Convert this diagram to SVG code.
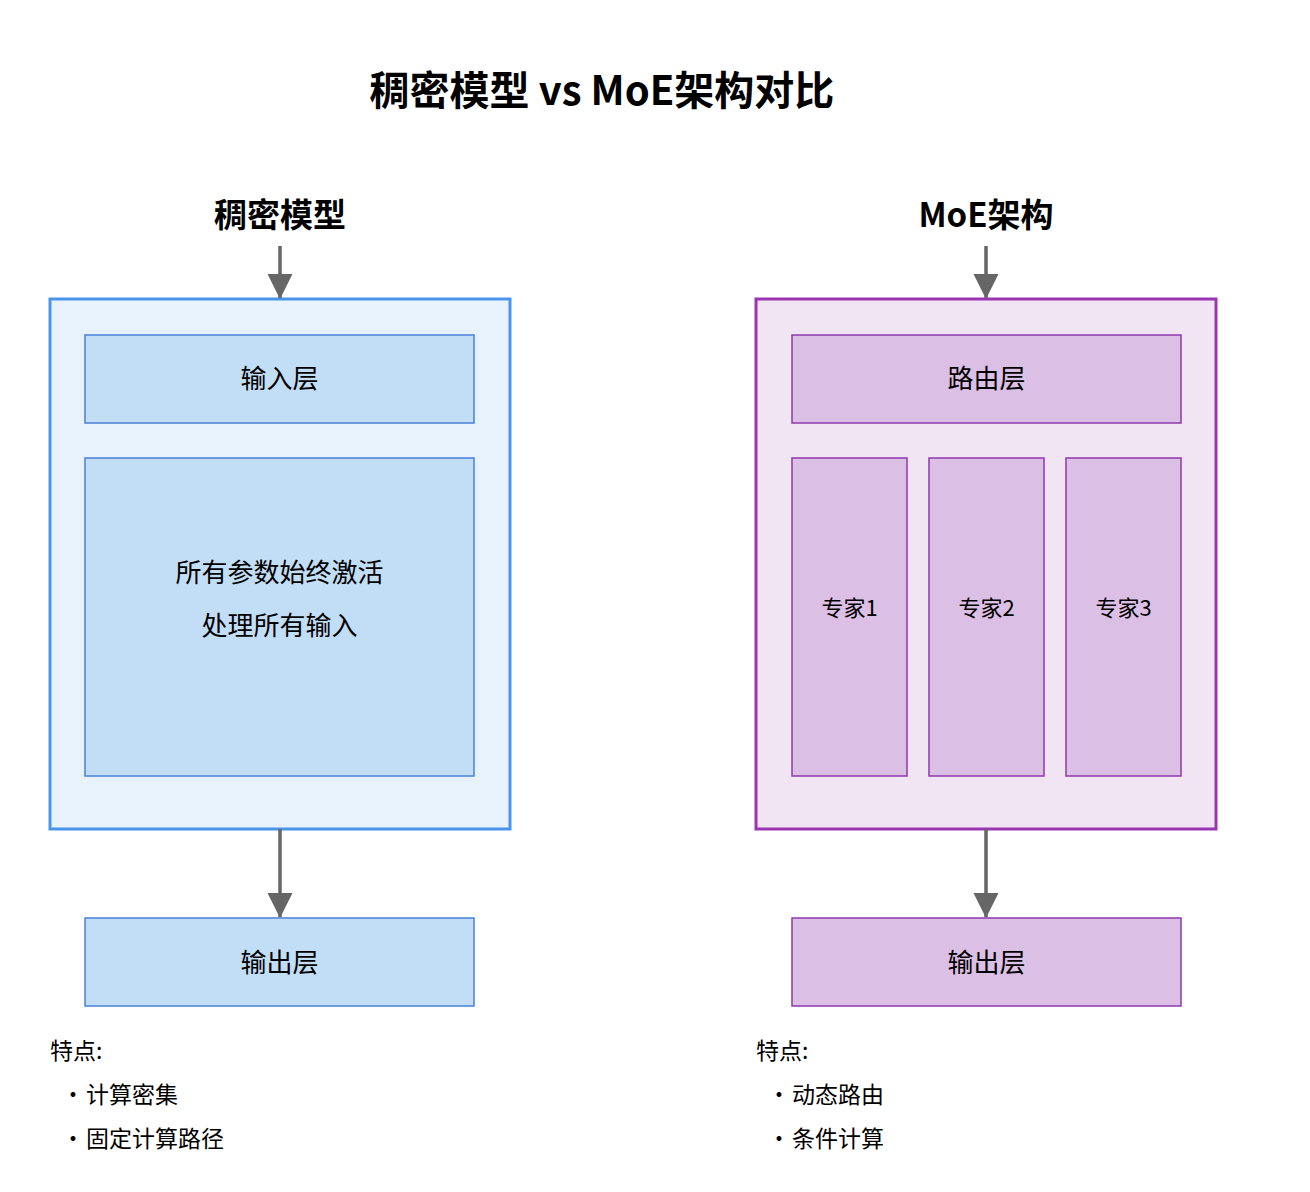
<svg xmlns="http://www.w3.org/2000/svg" width="1310" height="1192" viewBox="0 0 1310 1192">
<defs>
<marker id="arr" markerUnits="userSpaceOnUse" markerWidth="26" markerHeight="34" refX="24" refY="12.5" orient="auto">
<path d="M0,0 L25,12.5 L0,25 Z" fill="#666666"/>
</marker>
<style>
text{font-family:"Noto Sans CJK SC","Noto Sans",sans-serif;fill:#000;}
.title{font-size:40px;font-weight:bold;text-anchor:middle;}
.sub{font-size:33px;font-weight:bold;text-anchor:middle;}
.lbl{font-size:26px;text-anchor:middle;}
.ex{font-size:22px;text-anchor:middle;}
.feat{font-size:23px;}
.dot{font-size:23px;text-anchor:middle;}
.bc{fill:#e8f2fc;stroke:#4a95ec;stroke-width:3;}
.bi{fill:#c2ddf6;stroke:#4a80d6;stroke-width:1.5;}
.pc{fill:#f1e4f3;stroke:#9a35b4;stroke-width:3;}
.pi{fill:#dcbfe5;stroke:#8e38ae;stroke-width:1.5;}
.conn{stroke:#666666;stroke-width:3.5;fill:none;}
</style>
</defs>
<rect width="1310" height="1192" fill="#ffffff"/>
<text class="title" x="602" y="105">稠密模型 vs MoE架构对比</text>

<g id="dense">
<text class="sub" x="280" y="227">稠密模型</text>
<rect id="dense-container" class="bc" x="50" y="299" width="460" height="530"/>
<g id="dense-input"><rect class="bi" x="85" y="335" width="389" height="88"/><text class="lbl" x="279.5" y="388">输入层</text></g>
<g id="dense-params"><rect class="bi" x="85" y="458" width="389" height="318"/><text class="lbl" x="279.5" y="582">所有参数始终激活</text><text class="lbl" x="279.5" y="635">处理所有输入</text></g>
<g id="dense-output"><rect class="bi" x="85" y="918" width="389" height="88"/><text class="lbl" x="279.5" y="972">输出层</text></g>
<g id="dense-features">
<text class="feat" x="50" y="1059">特点:</text>
<text class="dot" x="73" y="1103">•</text><text class="feat" x="86" y="1103">计算密集</text>
<text class="dot" x="73" y="1147">•</text><text class="feat" x="86" y="1147">固定计算路径</text>
</g>
</g>

<g id="moe">
<text class="sub" x="986" y="227">MoE架构</text>
<rect id="moe-container" class="pc" x="756" y="299" width="460" height="530"/>
<g id="moe-router"><rect class="pi" x="792" y="335" width="389" height="88"/><text class="lbl" x="986.5" y="388">路由层</text></g>
<g id="expert1"><rect class="pi" x="792" y="458" width="115" height="318"/><text class="ex" x="849.5" y="616">专家1</text></g>
<g id="expert2"><rect class="pi" x="929" y="458" width="115" height="318"/><text class="ex" x="986.5" y="616">专家2</text></g>
<g id="expert3"><rect class="pi" x="1066" y="458" width="115" height="318"/><text class="ex" x="1123.5" y="616">专家3</text></g>
<g id="moe-output"><rect class="pi" x="792" y="918" width="389" height="88"/><text class="lbl" x="986.5" y="972">输出层</text></g>
<g id="moe-features">
<text class="feat" x="756" y="1059">特点:</text>
<text class="dot" x="779" y="1103">•</text><text class="feat" x="792" y="1103">动态路由</text>
<text class="dot" x="779" y="1147">•</text><text class="feat" x="792" y="1147">条件计算</text>
</g>
</g>

<g id="connectors">
<line class="conn" x1="280" y1="246" x2="280" y2="298" marker-end="url(#arr)"/>
<line class="conn" x1="280" y1="829" x2="280" y2="917" marker-end="url(#arr)"/>
<line class="conn" x1="986" y1="246" x2="986" y2="298" marker-end="url(#arr)"/>
<line class="conn" x1="986" y1="829" x2="986" y2="917" marker-end="url(#arr)"/>
</g>
</svg>
